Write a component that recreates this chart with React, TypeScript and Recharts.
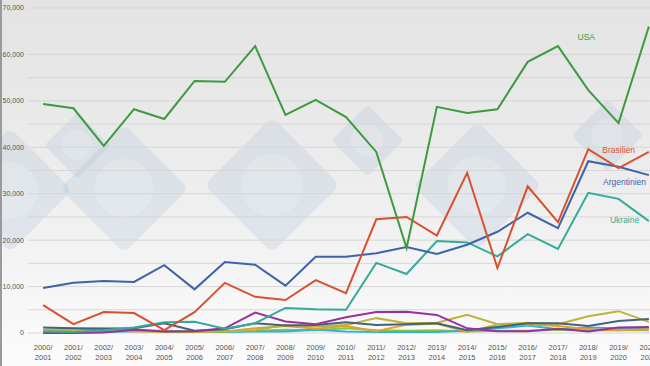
import React from 'react';
import { LineChart, Line, XAxis, YAxis, CartesianGrid, ReferenceDot } from 'recharts';

const seasons = [
  '2000/2001', '2001/2002', '2002/2003', '2003/2004', '2004/2005', '2005/2006', '2006/2007',
  '2007/2008', '2008/2009', '2009/2010', '2010/2011', '2011/2012', '2012/2013', '2013/2014',
  '2014/2015', '2015/2016', '2016/2017', '2017/2018', '2018/2019', '2019/2020', '2020/2021',
];

const usa = [49300, 48400, 40300, 48200, 46100, 54300, 54100, 61800, 47000, 50200, 46500, 39000, 18300, 48700, 47400, 48200, 58400, 61800, 52300, 45200, 66000];
const brasilien = [6000, 1900, 4500, 4300, 600, 4500, 10800, 7800, 7100, 11400, 8600, 24500, 25000, 21000, 34500, 14000, 31600, 23900, 39600, 35500, 39000];
const argentinien = [9700, 10800, 11200, 11000, 14600, 9400, 15300, 14700, 10200, 16400, 16400, 17200, 18500, 17000, 19000, 21800, 25900, 22600, 37000, 35800, 34000];
const ukraine = [300, 200, 600, 1200, 2300, 2400, 900, 2100, 5400, 5100, 5000, 15100, 12700, 19800, 19500, 16500, 21300, 18100, 30200, 28900, 24100];
const purple = [0, 0, 100, 700, 300, 400, 1000, 4400, 2500, 1900, 3400, 4500, 4600, 3900, 1000, 400, 400, 900, 300, 1200, 1300];
const slate = [1200, 1000, 900, 1000, 2100, 500, 800, 2100, 1600, 1700, 2300, 1700, 1900, 2100, 600, 1300, 2100, 2100, 1500, 2600, 3000];
const olive = [400, 700, 700, 500, 200, 200, 300, 600, 1700, 1400, 1700, 3200, 2100, 2200, 3900, 1900, 2200, 1900, 3600, 4700, 2400];
const orange = [500, 800, 700, 300, 300, 300, 300, 1000, 1500, 900, 1500, 400, 1800, 2000, 300, 1800, 1900, 1500, 800, 600, 800];
const cyan = [100, 100, 200, 400, 500, 300, 200, 300, 300, 700, 300, 200, 200, 200, 500, 1000, 1600, 800, 1200, 1000, 1100];
const lightGreen = [700, 900, 1000, 800, 400, 300, 300, 500, 700, 600, 1000, 600, 500, 600, 300, 500, 500, 700, 600, 600, 600];

const yTicks = [0, 10000, 20000, 30000, 40000, 50000, 60000, 70000];
const gridValues = [0, 5000, 10000, 15000, 20000, 25000, 30000, 35000, 40000, 45000, 50000, 55000, 60000, 65000, 70000];

const data = seasons.map((s, i) => ({
  season: s,
  usa: usa[i],
  brasilien: brasilien[i],
  argentinien: argentinien[i],
  ukraine: ukraine[i],
  purple: purple[i],
  slate: slate[i],
  olive: olive[i],
  orange: orange[i],
  cyan: cyan[i],
  lightGreen: lightGreen[i],
}));

const FONT = '"Liberation Sans", Arial, sans-serif';

const SeasonTick = (props: any) => {
  const { x, y, payload } = props;
  const [a, b] = String(payload.value).split('/');
  return (
    <text x={x} y={y} textAnchor="middle" fontSize={7.5} fill="#555" fontFamily={FONT}>
      <tspan x={x} dy={9}>{a}/</tspan>
      <tspan x={x} dy={10}>{b}</tspan>
    </text>
  );
};

const seriesLabel = (text: string, color: string, dx: number) => (p: any) => {
  const vb = p.viewBox || {};
  const cx = (vb.x || 0) + (vb.width || 0) / 2 + dx;
  const cy = (vb.y || 0) + (vb.height || 0) / 2;
  return (
    <text x={cx} y={cy} dy={3} textAnchor="middle" fontSize={8.5} fill={color} fontFamily={FONT}>
      {text}
    </text>
  );
};

// faint background logo, decoration only
const Diamond = ({ cx, cy, hd }: { cx: number; cy: number; hd: number }) => {
  const side = hd * Math.SQRT2;
  return (
    <div style={{ position: 'absolute', left: cx - hd, top: cy - hd, width: hd * 2, height: hd * 2 }}>
      <div style={{
        position: 'absolute', left: hd - side / 2, top: hd - side / 2, width: side, height: side,
        background: 'rgba(150,178,205,0.2)', transform: 'rotate(45deg)', borderRadius: hd * 0.12,
      }} />
      <div style={{
        position: 'absolute', left: hd * 0.55, top: hd * 0.55, width: hd * 0.9, height: hd * 0.9,
        borderRadius: '50%', background: 'rgba(255,255,255,0.18)',
      }} />
    </div>
  );
};

const lineProps = { type: 'linear' as const, dot: false, isAnimationActive: false, strokeWidth: 2 };

export default function App() {
  return (
    <div style={{
      position: 'absolute', left: 0, top: 0, width: 650, height: 366, overflow: 'hidden',
      background: 'linear-gradient(#e3e3e3 0%, #ececec 45%, #f6f6f6 80%, #fbfbfb 100%)',
      borderLeft: '2px solid #9a9a9a', boxSizing: 'border-box',
    }}>
      {/* watermark */}
      <Diamond cx={8} cy={190} hd={62} />
      <Diamond cx={122} cy={188} hd={64} />
      <Diamond cx={75} cy={145} hd={33} />
      <Diamond cx={270} cy={185} hd={68} />
      <Diamond cx={365} cy={140} hd={36} />
      <Diamond cx={475} cy={185} hd={64} />
      <Diamond cx={605} cy={135} hd={36} />
      <div style={{ position: 'absolute', left: -2, top: 0 }}>
        <LineChart width={664} height={366} data={data} margin={{ top: 8, right: 0, bottom: 0, left: 0 }}>
          <CartesianGrid vertical={false} stroke="#d6d6d6" horizontalValues={gridValues} />
          <XAxis
            dataKey="season"
            scale="band"
            interval={0}
            height={33}
            tickLine={false}
            axisLine={false}
            tick={<SeasonTick />}
          />
          <YAxis
            width={28}
            domain={[0, 70000]}
            ticks={yTicks}
            tickLine={false}
            tickSize={0}
            tickMargin={4}
            axisLine={false}
            tickFormatter={(v: number) => v.toLocaleString('en-US')}
            tick={{ fontSize: 7, fill: '#555', fontFamily: FONT }}
          />
          <Line dataKey="lightGreen" stroke="#8cc43c" {...lineProps} />
          <Line dataKey="cyan" stroke="#2cb5d5" {...lineProps} />
          <Line dataKey="orange" stroke="#e2a12b" {...lineProps} />
          <Line dataKey="olive" stroke="#b8b43c" {...lineProps} />
          <Line dataKey="slate" stroke="#43627f" {...lineProps} />
          <Line dataKey="purple" stroke="#9a2fa0" {...lineProps} />
          <Line dataKey="ukraine" stroke="#35aa9a" {...lineProps} />
          <Line dataKey="argentinien" stroke="#3f63a8" {...lineProps} />
          <Line dataKey="brasilien" stroke="#d9502e" {...lineProps} />
          <Line dataKey="usa" stroke="#3d9a3d" {...lineProps} />
          <ReferenceDot x="2018/2019" y={63700} r={0} label={seriesLabel('USA', '#3d9a3d', -2)} />
          <ReferenceDot x="2019/2020" y={39400} r={0} label={seriesLabel('Brasilien', '#d9502e', 0)} />
          <ReferenceDot x="2019/2020" y={32500} r={0} label={seriesLabel('Argentinien', '#3f63a8', 6)} />
          <ReferenceDot x="2019/2020" y={24300} r={0} label={seriesLabel('Ukraine', '#35aa9a', 6)} />
        </LineChart>
      </div>
    </div>
  );
}
